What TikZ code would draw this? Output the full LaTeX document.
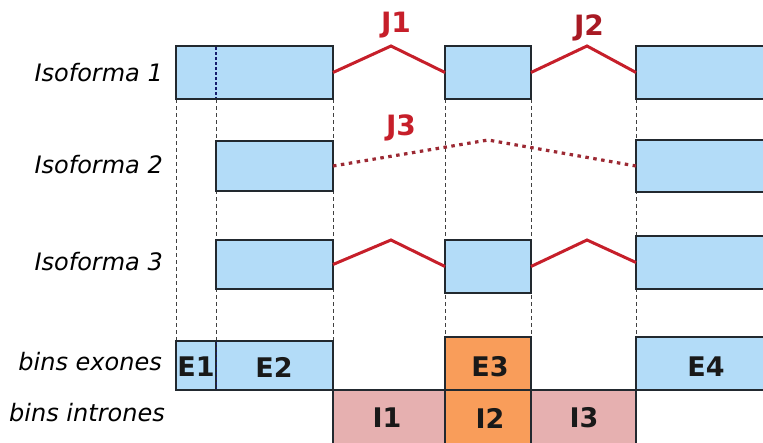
\documentclass[tikz,border=0pt]{standalone}
\usepackage{fontspec}
\setmainfont{DejaVu Sans}
\begin{document}
\definecolor{exonblue}{HTML}{B3DCF8}
\definecolor{binorange}{HTML}{F99D5A}
\definecolor{intronpink}{HTML}{E6B0B0}
\definecolor{edgedark}{HTML}{22292F}
\definecolor{junctred}{HTML}{C61F2A}
\definecolor{junctdark}{HTML}{9C2933}
\begin{tikzpicture}[x=1pt,y=-1pt,
  box/.style={draw=edgedark,line width=1.8pt,anchor=north west,inner sep=0pt,outer sep=0pt},
  exon/.style={box,fill=exonblue},
  orbin/.style={box,fill=binorange},
  inbin/.style={box,fill=intronpink},
  guide/.style={draw=black!75,line width=0.7pt,dash pattern=on 4pt off 3pt},
  junction/.style={draw=junctred,line width=3pt},
  skip/.style={draw=junctdark,line width=3.2pt,dash pattern=on 3.5pt off 4.5pt},
  jlabel/.style={font=\fontsize{28}{30}\selectfont\bfseries,inner sep=0pt},
  rowlabel/.style={font=\fontsize{24}{27}\selectfont\itshape,anchor=east,inner sep=0pt},
  binlabel/.style={font=\fontsize{27}{29}\selectfont\bfseries,inner sep=0pt,text=black!90}]
\useasboundingbox (0,0) rectangle (763,442);
\clip (0,0) rectangle (763,442);

% vertical guides
\foreach \gx/\gy in {176/341,216/341,333/341,445/337,531/337,636/337}
  \draw[guide] (\gx,99) -- (\gx,\gy);

% row labels
\node[rowlabel] (r1) at (163,73) {Isoforma 1};
\node[rowlabel] (r2) at (163,165) {Isoforma 2};
\node[rowlabel] (r3) at (163,262) {Isoforma 3};
\node[rowlabel] (r4) at (162,362) {bins exones};
\node[rowlabel] (r5) at (165,413) {bins intrones};

% isoform 1
\node[exon,minimum width=157pt,minimum height=53pt] (a1) at (176,46) {};
\draw[draw=edgedark!70!blue,line width=1.2pt,dash pattern=on 3pt off 2pt] (216,47) -- (216,98);
\node[exon,minimum width=86pt,minimum height=53pt] (a2) at (445,46) {};
\node[exon,minimum width=160pt,minimum height=53pt] (a3) at (636,46) {};
\coordinate (p1) at (391,46);
\coordinate (p2) at (587,46);
\draw[junction] (a1.east) -- (p1) -- (a2.west);
\draw[junction] (a2.east) -- (p2) -- (a3.west);
\node[jlabel,text=junctred] (j1) at (396,25) {J1};
\node[jlabel,text=junctred!85!black] (j2) at (589,28) {J2};

% isoform 2
\node[exon,minimum width=117pt,minimum height=50pt] (b1) at (216,141) {};
\node[exon,minimum width=160pt,minimum height=52pt] (b2) at (636,140) {};
\coordinate (p3) at (488,140);
\draw[skip] (b1.east) -- (p3) -- (b2.west);
\node[jlabel,text=junctred] (j3) at (401,128) {J3};

% isoform 3
\node[exon,minimum width=117pt,minimum height=49pt] (c1) at (216,240) {};
\node[exon,minimum width=86pt,minimum height=53pt] (c2) at (445,240) {};
\node[exon,minimum width=160pt,minimum height=53pt] (c3) at (636,236) {};
\coordinate (p4) at (391,240);
\coordinate (p5) at (587,240);
\draw[junction] (c1.east) -- (p4) -- (c2.west);
\draw[junction] (c2.east) -- (p5) -- (c3.west);

% exon bins
\node[exon,minimum width=40pt,minimum height=49pt] (e1) at (176,341) {};
\node[exon,minimum width=117pt,minimum height=49pt] (e2) at (216,341) {};
\draw[draw=edgedark!70!blue,line width=0.9pt,dash pattern=on 3pt off 2pt] (216,342) -- (216,389);
\node[orbin,minimum width=86pt,minimum height=53pt] (e3) at (445,337) {};
\node[exon,minimum width=160pt,minimum height=53pt] (e4) at (636,337) {};
\node[binlabel] at (196,367) {E1};
\node[binlabel] at (274,367) {E2};
\node[binlabel] at (490,367) {E3};
\node[binlabel] at (706,367) {E4};

% intron bins
\node[inbin,minimum width=112pt,minimum height=60pt] (i1) at (333,390) {};
\node[orbin,minimum width=86pt,minimum height=60pt] (i2) at (445,390) {};
\node[inbin,minimum width=105pt,minimum height=60pt] (i3) at (531,390) {};
\node[binlabel] at (387,418) {I1};
\node[binlabel] at (490,418) {I2};
\node[binlabel] at (584,418) {I3};
\end{tikzpicture}
\end{document}
